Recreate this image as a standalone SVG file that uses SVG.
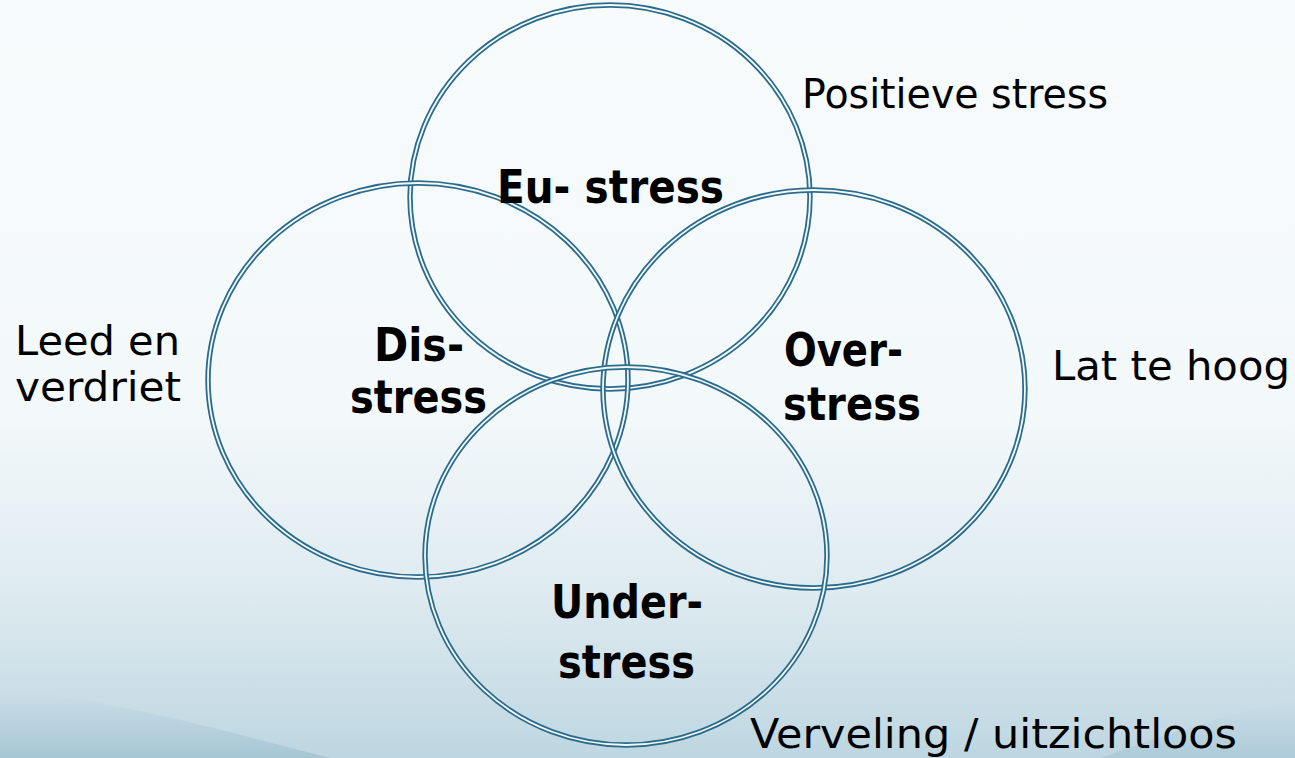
<svg xmlns="http://www.w3.org/2000/svg" width="1295" height="758" viewBox="0 0 1295 758">
  <defs>
    <linearGradient id="bg" x1="0" y1="0" x2="0" y2="1">
      <stop offset="0" stop-color="#f7fbfc"/>
      <stop offset="0.55" stop-color="#f3f8fa"/>
      <stop offset="0.78" stop-color="#deebf0"/>
      <stop offset="1" stop-color="#bed6e1"/>
    </linearGradient>
    <linearGradient id="wave" x1="0" y1="0" x2="0" y2="1">
      <stop offset="0" stop-color="#b4cfdb" stop-opacity="0"/>
      <stop offset="1" stop-color="#a3c4d3" stop-opacity="0.9"/>
    </linearGradient>
  </defs>
  <style>
    .ring-out { fill: none; stroke: #2b6c8c; stroke-width: 5.4; }
    .ring-in { fill: none; stroke: #f4f9fb; stroke-width: 1.8; }
    .note { font-family: "DejaVu Sans", Verdana, sans-serif; font-size: 40px; fill: #000; }
    .title { font-family: "DejaVu Sans", Verdana, sans-serif; font-size: 46px; font-weight: bold; fill: #000; }
  </style>

  <!-- backdrop -->
  <rect x="0" y="0" width="1295" height="758" fill="url(#bg)"/>
  <path d="M0,690 C120,700 220,730 330,758 L0,758 Z" fill="url(#wave)"/>
  <path d="M1295,700 C1220,715 1150,740 1100,758 L1295,758 Z" fill="url(#wave)" opacity="0.7"/>

  <!-- overlapping stress circles -->
  <g id="eu">
    <ellipse class="ring-out" cx="610" cy="197" rx="200" ry="192"/>
    <ellipse class="ring-in" cx="610" cy="197" rx="200" ry="192"/>
  </g>
  <g id="dis">
    <ellipse class="ring-out" cx="418" cy="380" rx="210" ry="197"/>
    <ellipse class="ring-in" cx="418" cy="380" rx="210" ry="197"/>
  </g>
  <g id="over">
    <ellipse class="ring-out" cx="814" cy="389" rx="211" ry="199"/>
    <ellipse class="ring-in" cx="814" cy="389" rx="211" ry="199"/>
  </g>
  <g id="under">
    <ellipse class="ring-out" cx="626" cy="556" rx="201" ry="189"/>
    <ellipse class="ring-in" cx="626" cy="556" rx="201" ry="189"/>
  </g>

  <!-- circle titles -->
  <g id="eu-label">
    <text class="title" x="497" y="203" textLength="227" lengthAdjust="spacingAndGlyphs">Eu- stress</text>
  </g>
  <g id="dis-label">
    <text class="title" x="374" y="361" textLength="90" lengthAdjust="spacingAndGlyphs">Dis-</text>
    <text class="title" x="350" y="413" textLength="137" lengthAdjust="spacingAndGlyphs">stress</text>
  </g>
  <g id="over-label">
    <text class="title" x="784" y="366" textLength="119" lengthAdjust="spacingAndGlyphs">Over-</text>
    <text class="title" x="783" y="420" textLength="138" lengthAdjust="spacingAndGlyphs">stress</text>
  </g>
  <g id="under-label">
    <text class="title" x="551" y="618" textLength="152" lengthAdjust="spacingAndGlyphs">Under-</text>
    <text class="title" x="558" y="678" textLength="137" lengthAdjust="spacingAndGlyphs">stress</text>
  </g>

  <!-- side notes -->
  <g id="notes">
    <text class="note" x="802" y="108" textLength="306" lengthAdjust="spacingAndGlyphs">Positieve stress</text>
    <text class="note" x="1052" y="380" textLength="238" lengthAdjust="spacingAndGlyphs">Lat te hoog</text>
    <text class="note" x="15" y="355" textLength="165" lengthAdjust="spacingAndGlyphs">Leed en</text>
    <text class="note" x="15" y="401" textLength="166" lengthAdjust="spacingAndGlyphs">verdriet</text>
    <text class="note" x="750" y="748" textLength="487" lengthAdjust="spacingAndGlyphs">Verveling / uitzichtloos</text>
  </g>
</svg>
